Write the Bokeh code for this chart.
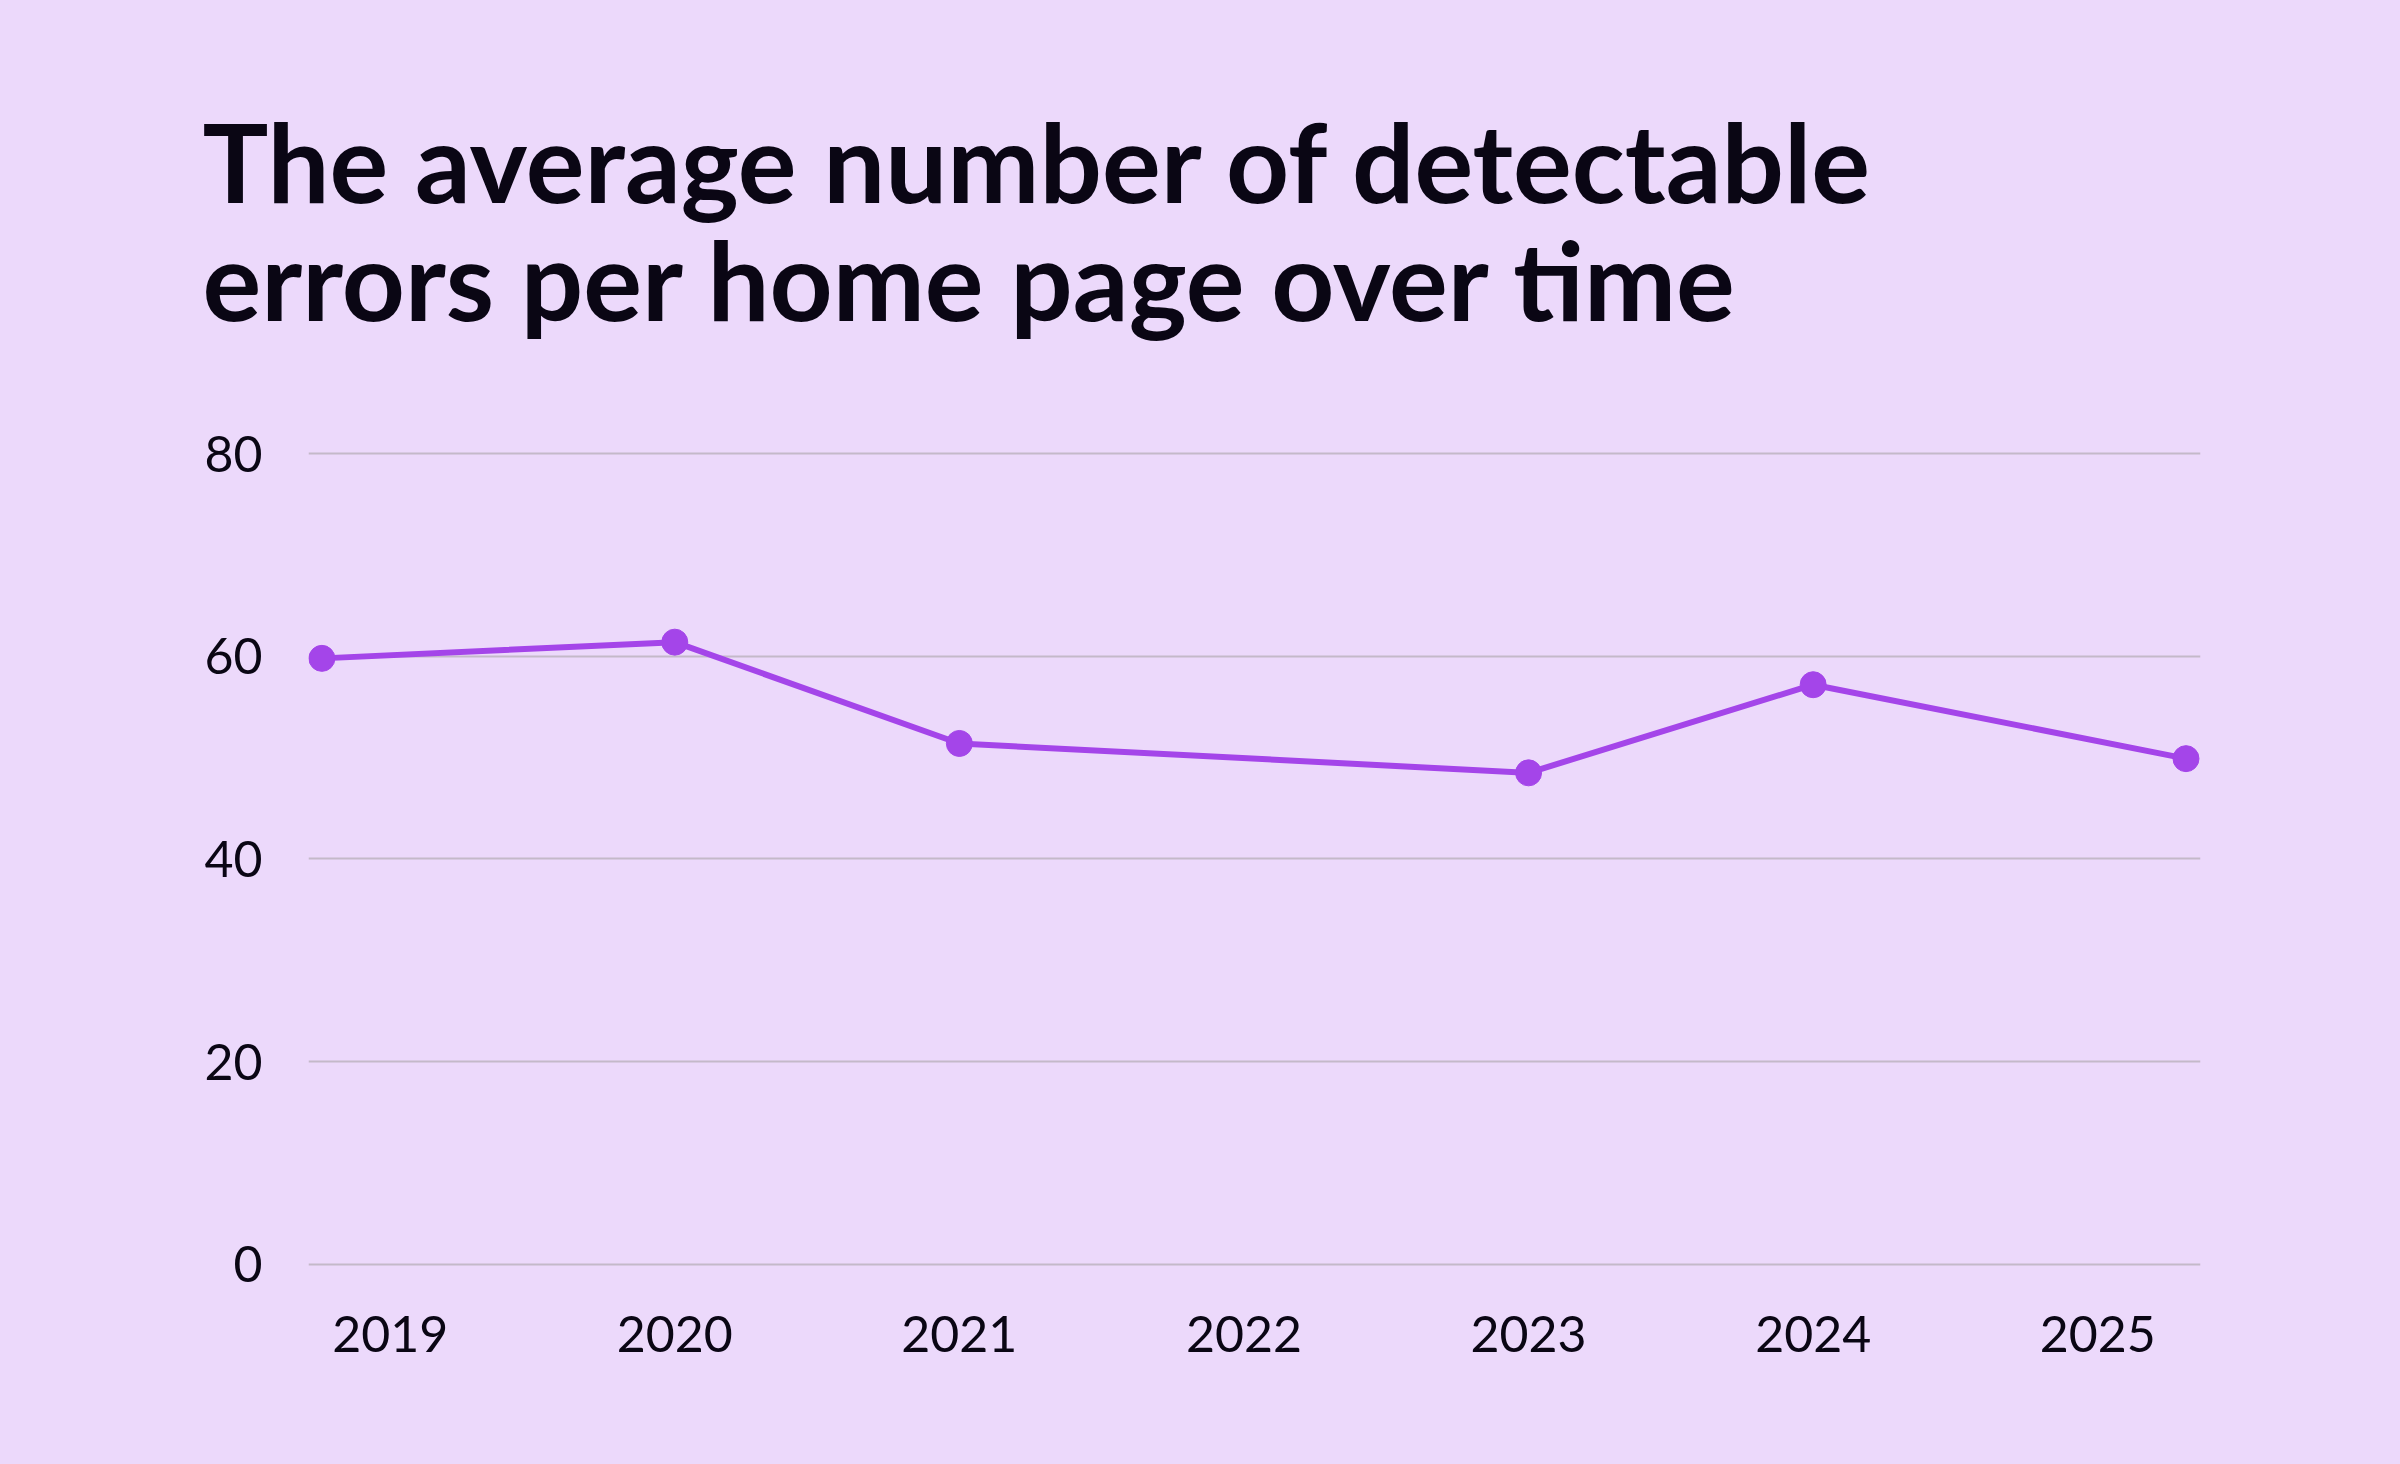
from bokeh.plotting import figure
from bokeh.models import Title, FixedTicker, Range1d, ColumnDataSource
from bokeh.embed import file_html
from bokeh.resources import INLINE

# ---- data ----
years = [2019, 2020, 2021, 2023, 2024, 2025]
# horizontal position of each point on the year axis (as drawn in the reference)
x_pos = [2018.76, 2020.0, 2021.0, 2023.0, 2024.0, 2025.31]
errors = [59.8, 61.4, 51.4, 48.5, 57.2, 49.9]
x_ticks = [2019, 2020, 2021, 2022, 2023, 2024, 2025]
y_ticks = [0, 20, 40, 60, 80]
title_lines = ["The average number of detectable", "errors per home page over time"]

BG = "#ecd9fb"
INK = "#0a0614"
PURPLE = "#a445e9"
GRID = "#c4b9c9"
TITLE_FONT = "Lato"
TICK_FONT = "Lato"

src = ColumnDataSource(dict(x=x_pos, y=errors, year=years))

p = figure(width=2384, height=1448, output_backend="svg", toolbar_location=None,
           x_range=Range1d(2018.713, 2025.361), y_range=Range1d(-3, 82),
           min_border_left=308, min_border_right=184,
           min_border_top=433, min_border_bottom=154,
           background_fill_color=BG, border_fill_color=BG, outline_line_color=None)

title = Title(text="\n".join(title_lines), align="left", offset=-106, text_font=TITLE_FONT,
              text_font_size="110px", text_font_style="bold", text_color=INK,
              text_line_height=0.895, standoff=179)
p.add_layout(title, "above")

p.line("x", "y", source=src, line_color=PURPLE, line_width=6)
p.scatter("x", "y", source=src, size=26, fill_color=PURPLE, line_color=PURPLE)

p.xaxis.ticker = FixedTicker(ticks=x_ticks)
p.yaxis.ticker = FixedTicker(ticks=y_ticks)
for ax in (p.xaxis[0], p.yaxis[0]):
    ax.axis_line_color = None
    ax.major_tick_line_color = None
    ax.minor_tick_line_color = None
    ax.major_label_text_font = TICK_FONT
    ax.major_label_text_font_size = "50px"
    ax.major_label_text_color = INK
p.xaxis.major_label_standoff = 15
p.yaxis.major_label_standoff = 40

p.xgrid.grid_line_color = None
p.ygrid.grid_line_color = GRID
p.ygrid.grid_line_width = 2

html = file_html(p, INLINE)
html = html.replace("<head>", "<head><style>html,body{background:%s;}</style>" % BG, 1)
open("out.html", "w").write(html)
